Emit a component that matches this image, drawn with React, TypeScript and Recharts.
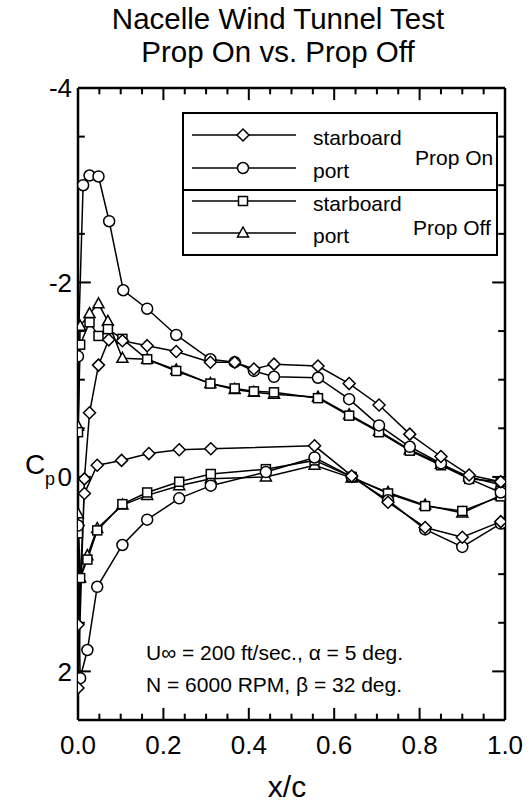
import React from 'react';
import { LineChart, Line, XAxis, YAxis } from 'recharts';

const xMajorTicks = [0, 0.2, 0.4, 0.6, 0.8, 1.0];
const xAllTicks = [0, 0.05, 0.1, 0.15, 0.2, 0.25, 0.3, 0.35, 0.4, 0.45, 0.5, 0.55, 0.6, 0.65, 0.7, 0.75, 0.8, 0.85, 0.9, 0.95, 1.0];
const yMajorTicks = [-4, -2, 0, 2];
const yAllTicks = [-4, -3.5, -3, -2.5, -2, -1.5, -1, -0.5, 0, 0.5, 1, 1.5, 2];

// Prop On, starboard (diamonds): lower surface TE -> LE, then upper surface LE -> TE
const onStbdX = [0.99, 0.9, 0.813, 0.726, 0.641, 0.554, 0.311, 0.237, 0.166, 0.102, 0.045, 0.015, 0.0, 0.0, 0.015, 0.027, 0.048, 0.072, 0.104, 0.162, 0.23, 0.31, 0.367, 0.412, 0.459, 0.562, 0.635, 0.705, 0.777, 0.85, 0.916, 0.99];
const onStbdCp = [0.46, 0.62, 0.52, 0.26, -0.01, -0.32, -0.29, -0.28, -0.24, -0.17, -0.12, 0.17, 1.52, 2.17, 0.02, -0.66, -1.15, -1.41, -1.4, -1.35, -1.29, -1.18, -1.18, -1.11, -1.16, -1.14, -0.96, -0.74, -0.44, -0.21, -0.02, 0.05];

// Prop On, port (circles)
const onPortX = [0.99, 0.9, 0.813, 0.726, 0.641, 0.554, 0.44, 0.311, 0.237, 0.162, 0.104, 0.045, 0.022, 0.005, 0.0, 0.0, 0.012, 0.027, 0.048, 0.073, 0.106, 0.162, 0.23, 0.31, 0.367, 0.412, 0.459, 0.562, 0.635, 0.705, 0.777, 0.85, 0.916, 0.99];
const onPortCp = [0.48, 0.72, 0.54, 0.24, 0.0, -0.2, -0.05, 0.09, 0.22, 0.44, 0.7, 1.13, 1.78, 2.07, 0.5, -1.24, -3.0, -3.1, -3.09, -2.63, -1.92, -1.73, -1.46, -1.21, -1.18, -1.09, -1.03, -1.02, -0.8, -0.53, -0.31, -0.14, 0.02, 0.16];

// Prop Off, starboard (squares)
const offStbdX = [0.99, 0.9, 0.813, 0.726, 0.641, 0.554, 0.44, 0.311, 0.237, 0.162, 0.104, 0.045, 0.022, 0.005, 0.0, 0.0, 0.005, 0.027, 0.048, 0.07, 0.104, 0.162, 0.23, 0.31, 0.367, 0.412, 0.459, 0.562, 0.635, 0.705, 0.777, 0.85, 0.916, 0.99];
const offStbdCp = [0.2, 0.35, 0.3, 0.17, 0.0, -0.17, -0.08, -0.03, 0.05, 0.16, 0.28, 0.55, 0.85, 1.04, 0.58, -0.46, -1.36, -1.59, -1.45, -1.52, -1.42, -1.21, -1.09, -0.96, -0.91, -0.88, -0.87, -0.81, -0.63, -0.46, -0.27, -0.12, 0.02, 0.05];

// Prop Off, port (triangles)
const offPortX = [0.99, 0.9, 0.813, 0.726, 0.641, 0.554, 0.44, 0.311, 0.237, 0.162, 0.104, 0.045, 0.022, 0.005, 0.0, 0.0, 0.005, 0.027, 0.048, 0.07, 0.104, 0.162, 0.23, 0.31, 0.367, 0.412, 0.459, 0.562, 0.635, 0.705, 0.777, 0.85, 0.916, 0.99];
const offPortCp = [0.19, 0.37, 0.29, 0.16, 0.01, -0.12, 0.0, 0.02, 0.09, 0.19, 0.29, 0.53, 0.81, 1.04, 0.38, -0.52, -1.55, -1.68, -1.78, -1.6, -1.22, -1.21, -1.1, -0.96, -0.9, -0.87, -0.85, -0.82, -0.64, -0.47, -0.28, -0.13, 0.0, 0.08];

const toPts = (xs: number[], cps: number[]) => xs.map((x, i) => ({ x, cp: cps[i] }));

const FONT = '"Liberation Sans", Arial, Helvetica, sans-serif';
const SW = 1.5;
const X_DOMAIN: [number, number] = [0, 1];
const Y_DOMAIN: [number, number] = [-4, 2.5];

// inward tick-mark lengths, in data units of the perpendicular axis
const XT_MAJOR = 0.125;
const XT_MINOR = 0.065;
const YT_MAJOR = 0.03;
const YT_MINOR = 0.016;

const buildTickSegments = () => {
  const segs: { key: string; pts: { x: number; cp: number }[] }[] = [];
  xAllTicks.forEach((v) => {
    const len = xMajorTicks.includes(v) ? XT_MAJOR : XT_MINOR;
    segs.push({ key: `b${v}`, pts: [{ x: v, cp: Y_DOMAIN[1] }, { x: v, cp: Y_DOMAIN[1] - len }] });
    segs.push({ key: `t${v}`, pts: [{ x: v, cp: Y_DOMAIN[0] }, { x: v, cp: Y_DOMAIN[0] + len }] });
  });
  yAllTicks.forEach((v) => {
    const len = yMajorTicks.includes(v) ? YT_MAJOR : YT_MINOR;
    segs.push({ key: `l${v}`, pts: [{ x: X_DOMAIN[0], cp: v }, { x: X_DOMAIN[0] + len, cp: v }] });
    segs.push({ key: `r${v}`, pts: [{ x: X_DOMAIN[1], cp: v }, { x: X_DOMAIN[1] - len, cp: v }] });
  });
  return segs;
};

type MarkerKind = 'diamond' | 'circle' | 'square' | 'triangle';

const Marker = ({ kind, cx, cy }: { kind: MarkerKind; cx: number; cy: number }) => {
  if (kind === 'diamond') {
    return <polygon points={`${cx},${cy - 6} ${cx + 6},${cy} ${cx},${cy + 6} ${cx - 6},${cy}`} fill="#fff" stroke="#000" strokeWidth={SW} />;
  }
  if (kind === 'circle') {
    return <circle cx={cx} cy={cy} r={5.5} fill="#fff" stroke="#000" strokeWidth={SW} />;
  }
  if (kind === 'square') {
    return <rect x={cx - 4.5} y={cy - 4.5} width={9} height={9} fill="#fff" stroke="#000" strokeWidth={SW} />;
  }
  return <polygon points={`${cx},${cy - 6} ${cx + 5.5},${cy + 4} ${cx - 5.5},${cy + 4}`} fill="#fff" stroke="#000" strokeWidth={SW} />;
};

const makeDot = (kind: MarkerKind) => (p: any) => {
  if (p.cx == null || p.cy == null) return <g key={`${kind}-${p.index}`} />;
  return (
    <g key={`${kind}-${p.index}`}>
      <Marker kind={kind} cx={p.cx} cy={p.cy} />
    </g>
  );
};

const axisLine = { stroke: '#000', strokeWidth: 2.5 };
const tickFont = { fontSize: 26, fill: '#000', fontFamily: FONT };

const LegendRow = ({ y, kind, label }: { y: number; kind: MarkerKind; label: string }) => (
  <g>
    <line x1={192} x2={296} y1={y} y2={y} stroke="#000" strokeWidth={SW} />
    <Marker kind={kind} cx={243} cy={y} />
    <text x={313} y={y + 10} fontSize={21} fontFamily={FONT} fill="#000">{label}</text>
  </g>
);

export default function App() {
  const tickSegments = buildTickSegments();
  return (
    <div style={{ position: 'absolute', left: 0, top: 0, width: 531, height: 803, background: '#fff' }}>
      <LineChart width={531} height={803} margin={{ top: 87, right: 25, bottom: 53, left: 0 }}>
        <XAxis xAxisId="b" type="number" dataKey="x" domain={X_DOMAIN} ticks={xMajorTicks} interval={0}
          orientation="bottom" height={30} tickSize={0} tickMargin={16} tick={tickFont} tickLine={false}
          tickFormatter={(v: number) => v.toFixed(1)} axisLine={axisLine} allowDataOverflow />
        <XAxis xAxisId="t" type="number" dataKey="x" domain={X_DOMAIN} ticks={xMajorTicks} interval={0}
          orientation="top" height={1} tickSize={0} tick={false} tickLine={false}
          axisLine={axisLine} allowDataOverflow />
        <YAxis yAxisId="l" type="number" domain={Y_DOMAIN} reversed ticks={yMajorTicks} interval={0}
          orientation="left" width={78} tickSize={0} tickMargin={6} tick={tickFont} tickLine={false}
          axisLine={axisLine} allowDataOverflow />
        <YAxis yAxisId="r" type="number" domain={Y_DOMAIN} reversed ticks={yMajorTicks} interval={0}
          orientation="right" width={1} tickSize={0} tick={false} tickLine={false}
          axisLine={axisLine} allowDataOverflow />
        {tickSegments.map((s) => (
          <Line key={s.key} xAxisId="b" yAxisId="l" data={s.pts} dataKey="cp" stroke="#000" strokeWidth={2}
            dot={false} activeDot={false} legendType="none" isAnimationActive={false} />
        ))}
        <Line xAxisId="b" yAxisId="l" data={toPts(offPortX, offPortCp)} dataKey="cp" stroke="#000" strokeWidth={SW}
          dot={makeDot('triangle')} activeDot={false} isAnimationActive={false} />
        <Line xAxisId="b" yAxisId="l" data={toPts(offStbdX, offStbdCp)} dataKey="cp" stroke="#000" strokeWidth={SW}
          dot={makeDot('square')} activeDot={false} isAnimationActive={false} />
        <Line xAxisId="b" yAxisId="l" data={toPts(onPortX, onPortCp)} dataKey="cp" stroke="#000" strokeWidth={SW}
          dot={makeDot('circle')} activeDot={false} isAnimationActive={false} />
        <Line xAxisId="b" yAxisId="l" data={toPts(onStbdX, onStbdCp)} dataKey="cp" stroke="#000" strokeWidth={SW}
          dot={makeDot('diamond')} activeDot={false} isAnimationActive={false} />
      </LineChart>
      <svg width={531} height={803} style={{ position: 'absolute', left: 0, top: 0, pointerEvents: 'none' }}>
        <text x={278} y={29} textAnchor="middle" fontSize={29.5} fontFamily={FONT} fill="#000">Nacelle Wind Tunnel Test</text>
        <text x={278} y={62} textAnchor="middle" fontSize={29.5} fontFamily={FONT} fill="#000">Prop On vs. Prop Off</text>
        <text x={25} y={474} fontSize={28} fontFamily={FONT} fill="#000">C</text>
        <text x={45} y={485} fontSize={18} fontFamily={FONT} fill="#000">p</text>
        <text x={287} y={797} textAnchor="middle" fontSize={30} fontFamily={FONT} fill="#000">x/c</text>
        <text x={146} y={660} fontSize={21} fontFamily={FONT} fill="#000">U∞ = 200 ft/sec., α = 5 deg.</text>
        <text x={146} y={692} fontSize={21} fontFamily={FONT} fill="#000">N = 6000 RPM, β = 32 deg.</text>
        <rect x={183} y={113} width={314} height={142} fill="none" stroke="#000" strokeWidth={2} />
        <line x1={183} x2={497} y1={190} y2={190} stroke="#000" strokeWidth={2} />
        <LegendRow y={135} kind="diamond" label="starboard" />
        <LegendRow y={168} kind="circle" label="port" />
        <LegendRow y={201} kind="square" label="starboard" />
        <LegendRow y={233} kind="triangle" label="port" />
        <text x={415} y={165} fontSize={21} fontFamily={FONT} fill="#000">Prop On</text>
        <text x={413} y={235} fontSize={21} fontFamily={FONT} fill="#000">Prop Off</text>
      </svg>
    </div>
  );
}
